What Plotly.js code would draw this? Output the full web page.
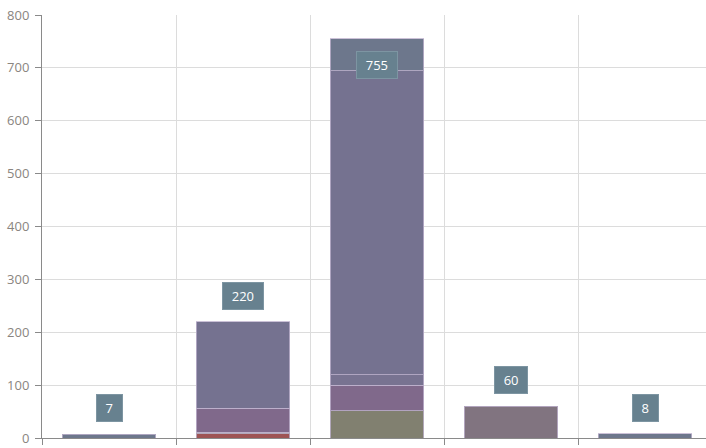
<!DOCTYPE html>
<html>
<head>
<meta charset="utf-8">
<script src="https://cdn.plot.ly/plotly-3.0.1.min.js"></script>
<style>
html,body{margin:0;padding:0;overflow:hidden;background:#fff;}
#chart{width:712px;height:448px;}
</style>
</head>
<body>
<div id="chart"></div>
<script>
var categories = ["A", "B", "C", "D", "E"];
var totals = [7, 220, 755, 60, 8];

// stacked segments, bottom to top
var segRed     = [null, 8, null, null, null];
var segOlive   = [null, 3, 52, null, null];
var segPurple  = [null, 45, 48, null, null];
var segLilac   = [null, null, 20, null, null];
var segViolet  = [null, 164, 575, null, null];
var segSlate   = [7, null, 60, null, 8];
var segMauve   = [null, null, null, 60, null];

var seriesNames  = ["S1", "S2", "S3", "S4", "S5", "S6", "S7"];
var seriesValues = [segRed, segOlive, segPurple, segLilac, segViolet, segSlate, segMauve];
var seriesColors = ["#9e5454", "#818070", "#80698b", "#787391", "#757290", "#6d778c", "#817480"];

var traces = seriesValues.map(function (vals, i) {
  return {
    type: "bar",
    name: seriesNames[i],
    x: categories,
    y: vals,
    width: 0.7,
    marker: { color: seriesColors[i], line: { color: "rgba(190,178,205,0.8)", width: 1 } },
    hoverinfo: "none"
  };
});

var yMax = 800;
var annotations = categories.map(function (c, i) {
  var inside = totals[i] > yMax * 0.9;
  var label = String(totals[i]);
  return {
    x: c, y: totals[i], xref: "x", yref: "y",
    text: label,
    showarrow: false,
    width: 9 + 7.6 * label.length,
    height: 18,
    yanchor: inside ? "top" : "bottom",
    yshift: inside ? -12 : 12,
    bgcolor: "#67818f",
    bordercolor: "#7d95a2",
    borderwidth: 1,
    borderpad: 4,
    font: { family: "Open Sans, sans-serif", size: 13, color: "#ffffff" }
  };
});

var layout = {
  width: 712, height: 448,
  margin: { l: 42, r: 0, t: 15, b: 10, pad: 0 },
  paper_bgcolor: "#ffffff", plot_bgcolor: "#ffffff",
  barmode: "stack",
  showlegend: false,
  xaxis: {
    type: "category",
    range: [-0.5, 4.5],
    showticklabels: false,
    tickson: "boundaries",
    ticks: "outside", ticklen: 6, tickcolor: "#8a8a8a",
    showgrid: true, gridcolor: "#dcdcdc", gridwidth: 1,
    showline: true, linecolor: "#8a8a8a", linewidth: 1,
    zeroline: false, fixedrange: true
  },
  yaxis: {
    range: [0, yMax], dtick: 100, tick0: 0,
    ticks: "outside", ticklen: 6, tickcolor: "#8a8a8a",
    showgrid: true, gridcolor: "#dcdcdc", gridwidth: 1,
    showline: true, linecolor: "#8a8a8a", linewidth: 1,
    zeroline: false,
    tickfont: { family: "Open Sans, sans-serif", size: 13, color: "#8a8580" },
    ticklabelstandoff: 3,
    fixedrange: true
  },
  annotations: annotations,
  font: { family: "Open Sans, sans-serif" }
};

Plotly.newPlot("chart", traces, layout, { displayModeBar: false, staticPlot: true });
</script>
</body>
</html>
